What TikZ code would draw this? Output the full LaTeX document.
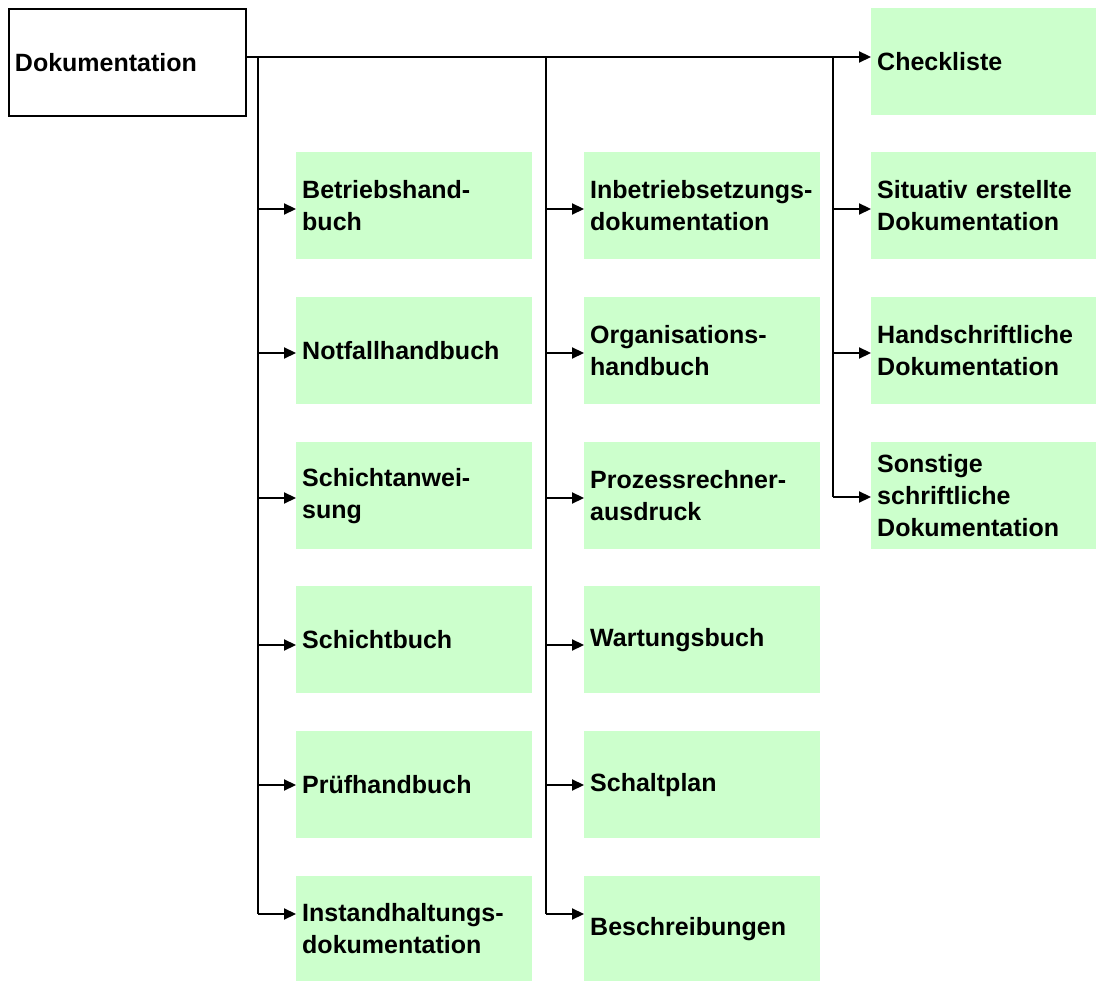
\documentclass[tikz,border=0pt]{standalone}
\usepackage{fontspec}
\setmainfont{Liberation Sans}
\usetikzlibrary{arrows.meta}
\definecolor{boxgreen}{HTML}{CCFFCC}
\begin{document}
\begin{tikzpicture}[x=1pt,y=-1pt,
  every node/.style={font=\fontsize{25}{32}\selectfont\bfseries},
  item/.style={fill=boxgreen, draw=none, anchor=north west, align=left,
    inner xsep=6pt, inner ysep=0pt, text width=224pt, minimum height=107pt},
  itemnarrow/.style={item, text width=213pt},
  root/.style={draw=black, line width=2pt, fill=white, anchor=north west, align=left,
    inner xsep=6pt, inner ysep=0pt, text width=225pt, minimum height=107pt},
  trunk/.style={line width=1.2pt},
  arr/.style={line width=2.2pt, -{Triangle[length=12pt,width=11pt]}}
]
\useasboundingbox (0,0) rectangle (1096,981);

% root and top-right target
\node[root] (doc) at (8,8) {Dokumentation};
\node[itemnarrow] (check) at (871,8) {Checkliste};

% first column
\node[item] (b11) at (296,152) {Betriebshand-\\buch};
\node[item] (b12) at (296,297) {Notfallhandbuch};
\node[item] (b13) at (296,442) {Schichtanwei-\\sung};
\node[item] (b14) at (296,586) {Schichtbuch};
\node[item] (b15) at (296,731) {Prüfhandbuch};
\node[item, minimum height=105pt] (b16) at (296,876) {Instandhaltungs-\\dokumentation};

% second column
\node[item] (b21) at (584,152) {Inbetriebsetzungs-\\dokumentation};
\node[item] (b22) at (584,297) {Organisations-\\handbuch};
\node[item] (b23) at (584,442) {Prozessrechner-\\ausdruck};
\node[item] (b24) at (584,586) {Wartungsbuch};
\node[item] (b25) at (584,731) {Schaltplan};
\node[item, minimum height=105pt] (b26) at (584,876) {Beschreibungen};

% third column
\node[itemnarrow] (b31) at (871,152) {Situativ erstellte\\Dokumentation};
\node[itemnarrow] (b32) at (871,297) {Handschriftliche\\Dokumentation};
\node[itemnarrow] (b33) at (871,442) {Sonstige\\schriftliche\\Dokumentation};

% branch points
\coordinate (m)  at (246,57);
\coordinate (t1) at (258,57);
\coordinate (t2) at (546,57);
\coordinate (t3) at (833,57);
\foreach \r/\y in {1/209,2/353,3/498,4/645,5/785,6/914}{
  \coordinate (a1\r) at (258,\y);
  \coordinate (a2\r) at (546,\y);
}
\foreach \r/\y in {1/209,2/353,3/497}{
  \coordinate (a3\r) at (833,\y);
}

% main line
\draw[arr] (m) -- (m -| check.west);

% trunks
\draw[trunk] (t1) -- (a16);
\draw[trunk] (t2) -- (a26);
\draw[trunk] (t3) -- (a33);

% branches
\foreach \r in {1,...,6}{
  \draw[arr] (a1\r) -- (a1\r -| b1\r.west);
  \draw[arr] (a2\r) -- (a2\r -| b2\r.west);
}
\foreach \r in {1,2,3}{
  \draw[arr] (a3\r) -- (a3\r -| b3\r.west);
}
\end{tikzpicture}
\end{document}
